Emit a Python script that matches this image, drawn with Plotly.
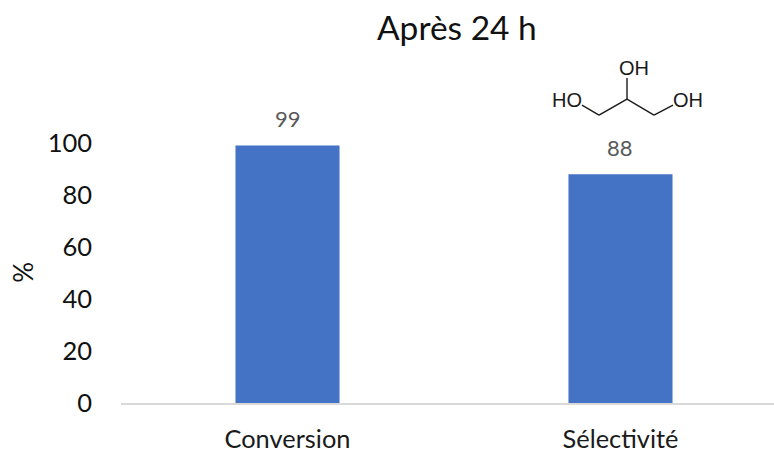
import plotly.graph_objects as go

categories = ["Conversion", "Sélectivité"]
values = [99, 88]
y_ticks = [0, 20, 40, 60, 80, 100]

W, H = 774, 450
L, R, T, B = 121, 774, 143, 403.5
FONT = "Lato"
MOL = "Liberation Sans"

def px(x):
    return (x - L) / (R - L)

def py(y):
    return (B - y) / (B - T)

fig = go.Figure(go.Bar(
    x=[0, 1], y=values, width=0.3125, marker=dict(color="#4472C4", line=dict(width=0)),
    cliponaxis=False, hoverinfo="skip",
))

shapes = []
for a, b in [((582, 105), (599, 115)), ((599, 115), (627, 99)), ((627, 99), (654, 115)),
             ((654, 115), (673, 105)), ((627, 99), (627, 78))]:
    shapes.append(dict(type="line", xref="paper", yref="paper", x0=px(a[0]), y0=py(a[1]),
                       x1=px(b[0]), y1=py(b[1]), line=dict(color="#1a1a1a", width=1.4)))

annots = []
for i, v in enumerate(values):
    annots.append(dict(text=str(v), x=i, y=v, xref="x", yref="y", showarrow=False, yshift=27,
                       xanchor="center", yanchor="middle",
                       font=dict(family=FONT, size=22, color="#595959")))
for txt, x, y in [("HO", 567, 99.5), ("OH", 634, 67.5), ("OH", 688, 99.5)]:
    annots.append(dict(text=txt, x=px(x), y=py(y), xref="paper", yref="paper", showarrow=False,
                       xanchor="center", yanchor="middle",
                       font=dict(family=MOL, size=20, color="#1a1a1a")))
annots.append(dict(text="Après 24 h", x=px(457), y=py(27), xref="paper", yref="paper", showarrow=False,
                   xanchor="center", yanchor="middle", font=dict(family=FONT, size=33.5, color="#111111")))
annots.append(dict(text="%", x=px(23), y=py(273), xref="paper", yref="paper", showarrow=False, textangle=-90,
                   xanchor="center", yanchor="middle", font=dict(family=FONT, size=26, color="#111111")))

fig.update_layout(
    width=W, height=H, autosize=False, showlegend=False, plot_bgcolor="white", paper_bgcolor="white",
    margin=dict(l=L, r=W - R, t=T, b=H - B, pad=0, autoexpand=False),
    shapes=shapes, annotations=annots,
    xaxis=dict(range=[-0.5, 1.461], tickvals=[0, 1], ticktext=categories, showgrid=False, zeroline=False,
               automargin=False,
               showline=True, linecolor="#D9D9D9", linewidth=1.5, ticks="", ticklabelstandoff=13,
               tickfont=dict(family=FONT, size=25.4, color="#1a1a1a")),
    yaxis=dict(range=[0, 100], tickvals=y_ticks, showgrid=False, zeroline=False, showline=False, ticks="",
               automargin=False,
               ticklabelstandoff=28, tickfont=dict(family=FONT, size=25.5, color="#111111")),
)
fig.write_html("out.html", config=dict(displayModeBar=False, responsive=False),
               post_script="document.body.style.margin='0';document.documentElement.style.overflow='hidden';")
